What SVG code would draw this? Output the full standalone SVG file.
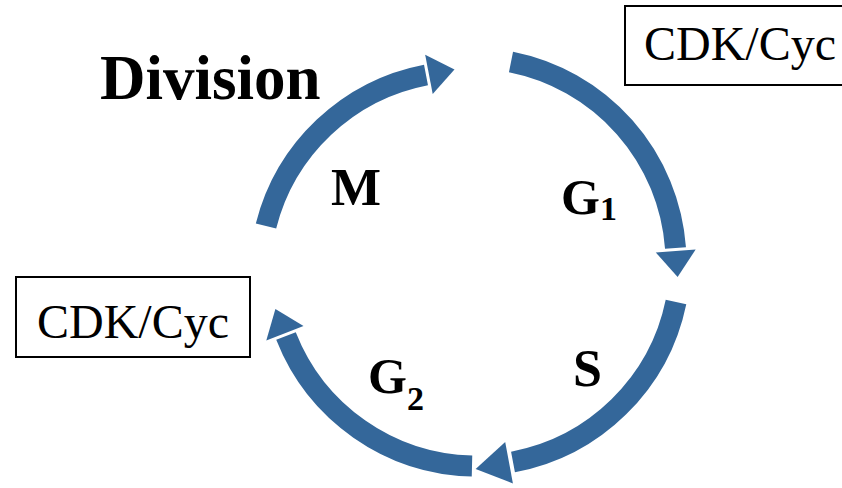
<svg xmlns="http://www.w3.org/2000/svg" width="842" height="488" viewBox="0 0 842 488">
<style>
.arc{fill:none;stroke:#34679A;stroke-width:21;stroke-linecap:butt}
.box{fill:#fff;stroke:#000;stroke-width:2}
.lbl{font-family:"Liberation Serif","Times New Roman",serif;font-weight:bold;fill:#000}
.cdk{font-family:"Liberation Serif","Times New Roman",serif;font-size:48px;fill:#000;text-anchor:middle}
</style>
<defs>
<marker id="head" markerUnits="userSpaceOnUse" viewBox="-5 -25 50 50" markerWidth="50" markerHeight="50" refX="0" refY="0" orient="auto" overflow="visible">
<path d="M3,-20 L29,0 L3,20 Z" fill="#34679A"/>
</marker>
<marker id="headBig" markerUnits="userSpaceOnUse" viewBox="-5 -25 50 50" markerWidth="50" markerHeight="50" refX="0" refY="0" orient="auto" overflow="visible">
<path d="M4,-21 L38,0 L4,21 Z" fill="#34679A"/>
</marker>
</defs>
<rect width="842" height="488" fill="#fff"/>
<g id="connectors">
<path id="arc-M" class="arc" d="M266,226 A205 205 0 0 1 426,75" marker-end="url(#head)"/>
<path id="arc-G1" class="arc" d="M511,62 A205 205 0 0 1 675.5,248" marker-end="url(#head)"/>
<path id="arc-S" class="arc" d="M676,302 A205 205 0 0 1 513,462" marker-end="url(#headBig)"/>
<path id="arc-G2" class="arc" d="M472,466 A205 205 0 0 1 286,336" marker-end="url(#head)"/>
</g>
<g id="division"><text class="lbl" x="100" y="99" font-size="63">Division</text></g>
<g id="label-M"><text class="lbl" x="331" y="205" font-size="53">M</text></g>
<g id="label-G1"><text class="lbl" x="561" y="214" font-size="50">G<tspan font-size="34" dy="6">1</tspan></text></g>
<g id="label-S"><text class="lbl" x="573" y="386" font-size="52">S</text></g>
<g id="label-G2"><text class="lbl" x="368" y="393" font-size="50">G<tspan font-size="34" dy="17">2</tspan></text></g>
<g id="box-top"><rect class="box" x="625" y="6" width="234" height="79"/><text class="cdk" x="740" y="60">CDK/Cyc</text></g>
<g id="box-bottom"><rect class="box" x="16" y="277" width="234" height="80"/><text class="cdk" x="133" y="338">CDK/Cyc</text></g>
</svg>
